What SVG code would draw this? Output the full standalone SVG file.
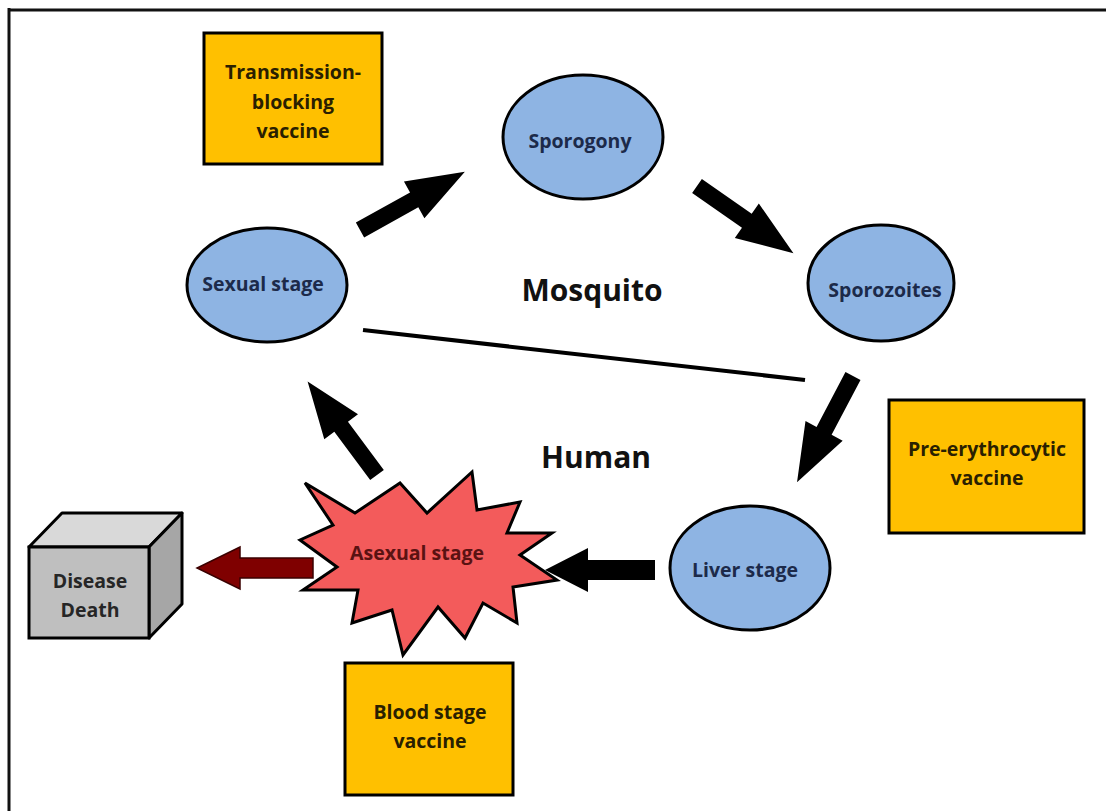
<svg xmlns="http://www.w3.org/2000/svg" width="1106" height="811" viewBox="0 0 1106 811">
<defs>
<style>
.t{font-family:"Open Sans","Liberation Sans",sans-serif;font-weight:bold;text-anchor:middle}
.n{font-size:19.5px;fill:#1c2a4a}
.v{font-size:19.5px;fill:#2a2000}
.big{font-size:30px;fill:#111}
.ell{fill:#8eb4e3;stroke:#000;stroke-width:3}
.box{fill:#ffc000;stroke:#000;stroke-width:3}
.arr{fill:#000}
</style>
<polygon id="arrowShape" points="0,-8.5 62,-8.5 62,-21 120,0 62,21 62,8.5 0,8.5"/>
</defs>
<rect width="1106" height="811" fill="#fff"/>
<g id="frame" stroke="#111" stroke-width="3">
<line x1="8" y1="10" x2="1106" y2="10"/>
<line x1="9" y1="8" x2="9" y2="811"/>
</g>

<g id="connectors">
<line x1="363" y1="330" x2="805" y2="380" stroke="#000" stroke-width="4"/>
<use href="#arrowShape" class="arr" transform="translate(360,230) rotate(-29.1) scale(1.0,1)"/>
<use href="#arrowShape" class="arr" transform="translate(697,186) rotate(34.9) scale(0.98,1)"/>
<use href="#arrowShape" class="arr" transform="translate(853,376) rotate(117.8) scale(1.0,1)"/>
<polygon class="arr" points="655,560 588,560 588,548 545,570 588,592 588,580 655,580"/>
<use href="#arrowShape" class="arr" transform="translate(377,475) rotate(-126.6) scale(0.97,1)"/>
<polygon points="313,558 240,558 240,547 197,568 240,589 240,578 313,578" fill="#7f0000" stroke="#3a0000" stroke-width="1.5"/>
</g>

<g id="transmission-blocking">
<rect class="box" x="204" y="33" width="178" height="131"/>
<text class="t v" x="293" y="79">Transmission-</text>
<text class="t v" x="293" y="109">blocking</text>
<text class="t v" x="293" y="138">vaccine</text>
</g>

<g id="sporogony">
<ellipse class="ell" cx="583" cy="137" rx="80" ry="62"/>
<text class="t n" x="580" y="148">Sporogony</text>
</g>

<g id="sexual-stage">
<ellipse class="ell" cx="267" cy="285" rx="80" ry="57"/>
<text class="t n" x="263" y="291">Sexual stage</text>
</g>

<g id="sporozoites">
<ellipse class="ell" cx="881" cy="283" rx="73" ry="58"/>
<text class="t n" x="885" y="297">Sporozoites</text>
</g>

<g id="mosquito-label">
<text class="t big" x="592" y="301">Mosquito</text>
</g>
<g id="human-label">
<text class="t big" x="596" y="468">Human</text>
</g>

<g id="pre-erythrocytic">
<rect class="box" x="889" y="400" width="195" height="133"/>
<text class="t v" x="987" y="456">Pre-erythrocytic</text>
<text class="t v" x="987" y="485">vaccine</text>
</g>

<g id="liver-stage">
<ellipse class="ell" cx="750" cy="568" rx="80" ry="62"/>
<text class="t n" x="745" y="577">Liver stage</text>
</g>

<g id="asexual-stage">
<polygon points="305,483 355,513 400,483 427,513 472,472 477,510 520,502 507,533 552,533 520,555 557,580 513,587 517,623 483,603 465,638 438,607 403,655 392,610 352,623 358,590 303,590 337,567 300,540 333,525" fill="#f35b5b" stroke="#000" stroke-width="3" stroke-linejoin="miter"/>
<text class="t" x="417" y="560" style="font-size:19.5px;fill:#5a1212">Asexual stage</text>
</g>

<g id="disease-death">
<polygon points="29,547 62,513 182,513 149,547" fill="#d9d9d9" stroke="#000" stroke-width="3" stroke-linejoin="round"/>
<polygon points="149,547 182,513 182,604 149,638" fill="#a6a6a6" stroke="#000" stroke-width="3" stroke-linejoin="round"/>
<rect x="29" y="547" width="120" height="91" fill="#bfbfbf" stroke="#000" stroke-width="3"/>
<text class="t" x="90" y="588" style="font-size:19.5px;fill:#262626">Disease</text>
<text class="t" x="90" y="617" style="font-size:19.5px;fill:#262626">Death</text>
</g>

<g id="blood-stage">
<rect class="box" x="345" y="663" width="168" height="132"/>
<text class="t v" x="430" y="719">Blood stage</text>
<text class="t v" x="430" y="748">vaccine</text>
</g>
</svg>
